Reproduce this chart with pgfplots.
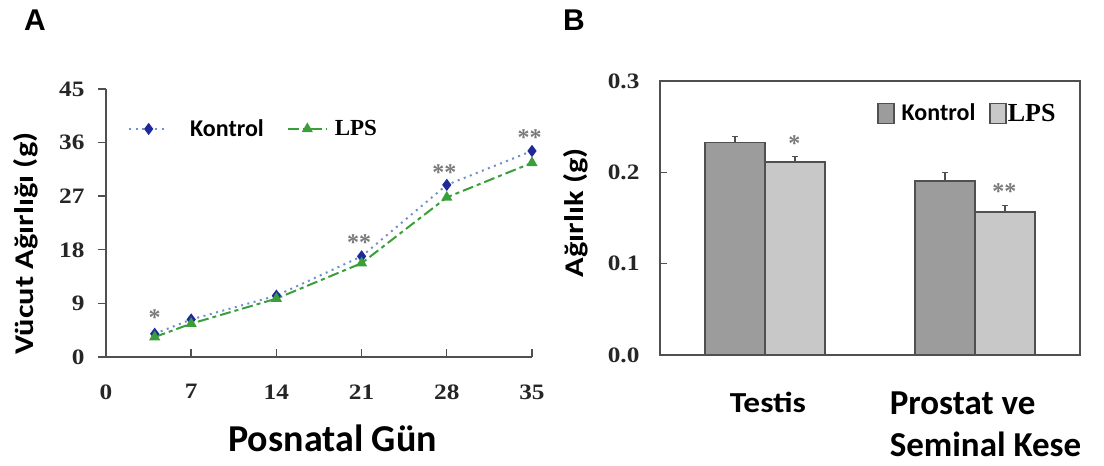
\documentclass[border=0pt]{standalone}
\usepackage{pgfplots}
\pgfplotsset{compat=1.18}
\usepackage{fontspec}
\setmainfont{Liberation Serif}
\newfontfamily\carlito{Carlito}
\newfontfamily\arialf{Liberation Sans}
\newcommand\hs[1]{\scalebox{1.15}[1]{#1}}
\newcommand\hl[1]{\scalebox{1.2}[1]{#1}}
\definecolor{kblue}{HTML}{1F2A9A}
\definecolor{kdot}{HTML}{7090C8}
\definecolor{lgreen}{HTML}{3A9F3A}
\definecolor{axgray}{HTML}{505050}
\definecolor{barK}{HTML}{9C9C9C}
\definecolor{barL}{HTML}{C8C8C8}
\definecolor{stargray}{HTML}{7A7A7A}
\begin{document}
\begin{tikzpicture}[x=1pt,y=1pt]
\useasboundingbox (0,0) rectangle (1104,466);
\node[font=\arialf\bfseries\fontsize{30}{30}\selectfont] at (35,446) {A};
\node[font=\arialf\bfseries\fontsize{30}{30}\selectfont] at (574,446) {B};
% ---------------- Panel A ----------------
\begin{axis}[
  scale only axis, width=426pt, height=268pt,
  at={(106pt,109pt)}, anchor=south west,
  xmin=0, xmax=35, ymin=0, ymax=45,
  axis x line=bottom, axis y line=left,
  axis line style={-, axgray, line width=1.4pt},
  xtick={0,7,14,21,28,35}, xticklabels={\hs{0},\hs{7},\hs{14},\hs{21},\hs{28},\hs{35}},
  ytick={0,9,18,27,36,45}, yticklabels={\hs{0},\hs{9},\hs{18},\hs{27},\hs{36},\hs{45}},
  xtick align=inside, ytick align=outside,
  major tick length=8pt,
  tick style={axgray, line width=1.4pt},
  ticklabel style={font=\bfseries\fontsize{22}{22}\selectfont, text=black!85},
  xticklabel style={yshift=-24pt},
  yticklabel style={xshift=-10pt},
  xlabel={Posnatal Gün},
  xlabel style={font=\carlito\bfseries\fontsize{38}{38}\selectfont, at={(axis description cs:0.532,-0.302)}, anchor=center},
  ylabel={\hl{Vücut Ağırlığı (g)}},
  ylabel style={font=\carlito\bfseries\fontsize{27}{27}\selectfont, at={(axis description cs:-0.188,0.4235)}, anchor=center, rotate=0},
  legend columns=2,
  legend style={draw=none, fill=none, inner sep=0pt, column sep=0pt, nodes={inner sep=0pt},
    at={(0.0516,0.851)}, anchor=west,
    /tikz/every even column/.append style={column sep=23pt}},
  legend image code/.code={\draw[mark repeat=2,mark phase=2,#1] plot coordinates {(0pt,0pt)(19.5pt,0pt)(39pt,0pt)};},
  clip=false,
]
\addplot[kdot, line width=2pt, dash pattern=on 2pt off 4.5pt,
  mark=diamond*, mark size=4.5pt, mark options={solid, fill=kblue, draw=kblue}]
  coordinates {(4,3.9) (7,6.3) (14,10.3) (21,16.9) (28,28.9) (35,34.6)};
\addlegendentry{\hspace*{21pt}\carlito\bfseries\fontsize{24}{24}\selectfont Kontrol}
\addplot[lgreen, line width=2pt, dash pattern=on 11pt off 4pt on 4pt off 4pt,
  mark=triangle*, mark size=4.5pt, mark options={solid, fill=lgreen, draw=lgreen}]
  coordinates {(4,3.35) (7,5.6) (14,9.8) (21,15.75) (28,26.8) (35,32.6)};
\addlegendentry{\hspace*{7pt}\bfseries\fontsize{23}{23}\selectfont LPS}
\begin{scope}[every node/.style={font=\bfseries\fontsize{24}{24}\selectfont, text=stargray}]
\node at (axis cs:4,6.7) {*};
\node at (axis cs:20.8,19.2) {**};
\node at (axis cs:27.8,31.0) {**};
\node at (axis cs:34.8,36.9) {**};
\end{scope}
\end{axis}
% ---------------- Panel B ----------------
\begin{axis}[
  scale only axis, width=420pt, height=274pt,
  at={(660pt,111pt)}, anchor=south west,
  xmin=-0.5, xmax=1.5, ymin=0, ymax=0.3,
  ybar=0pt, bar width=60pt,
  axis line style={axgray, line width=1.8pt},
  xtick={0.014,1.05},
  xticklabels={{\fontsize{29}{29}\selectfont\hs{Testis}},{Prostat ve\\Seminal Kese}},
  xtick style={draw=none},
  xticklabel style={font=\carlito\bfseries\fontsize{35}{42}\selectfont, align=left, anchor=north, inner sep=0pt, yshift=-30pt},
  ytick={0,0.1,0.2,0.3}, yticklabels={\hs{0.0},\hs{0.1},\hs{0.2},\hs{0.3}},
  ytick pos=left, ytick align=inside,
  major tick length=7pt,
  tick style={axgray, line width=1.4pt},
  yticklabel style={font=\bfseries\fontsize{22}{22}\selectfont, text=black!85, xshift=-17pt},
  ylabel={\hl{Ağırlık (g)}},
  ylabel style={font=\carlito\bfseries\fontsize{27}{27}\selectfont, at={(axis description cs:-0.2,0.519)}, anchor=center},
  legend columns=2,
  legend style={draw=none, fill=none, inner sep=0pt, column sep=0pt, nodes={inner sep=0pt},
    at={(0.517,0.882)}, anchor=west,
    /tikz/every even column/.append style={column sep=14pt}},
  legend image code/.code={\draw[#1, line width=1.4pt] (0pt,-10pt) rectangle (16pt,10pt);},
  clip=false,
]
\addplot[fill=barK, draw=axgray, line width=1.5pt,
  error bars/.cd, y dir=plus, y explicit,
  error bar style={line width=1.2pt, axgray},
  error mark options={rotate=90, mark size=3pt, line width=1.2pt, axgray}]
  coordinates {(0,0.2326) +- (0,0.0062) (1,0.1906) +- (0,0.0092)};
\addlegendentry{\hspace*{7pt}\carlito\bfseries\fontsize{24}{24}\selectfont Kontrol}
\addplot[fill=barL, draw=axgray, line width=1.5pt,
  error bars/.cd, y dir=plus, y explicit,
  error bar style={line width=1.2pt, axgray},
  error mark options={rotate=90, mark size=3pt, line width=1.2pt, axgray}]
  coordinates {(0,0.2114) +- (0,0.0062) (1,0.1567) +- (0,0.0066)};
\addlegendentry{\hspace*{1pt}\bfseries\fontsize{26}{26}\selectfont LPS}
\begin{scope}[every node/.style={font=\bfseries\fontsize{24}{24}\selectfont, text=stargray}]
\node at (axis cs:0.14,0.231) {*};
\node at (axis cs:1.14,0.1785) {**};
\end{scope}
\end{axis}
\end{tikzpicture}
\end{document}
